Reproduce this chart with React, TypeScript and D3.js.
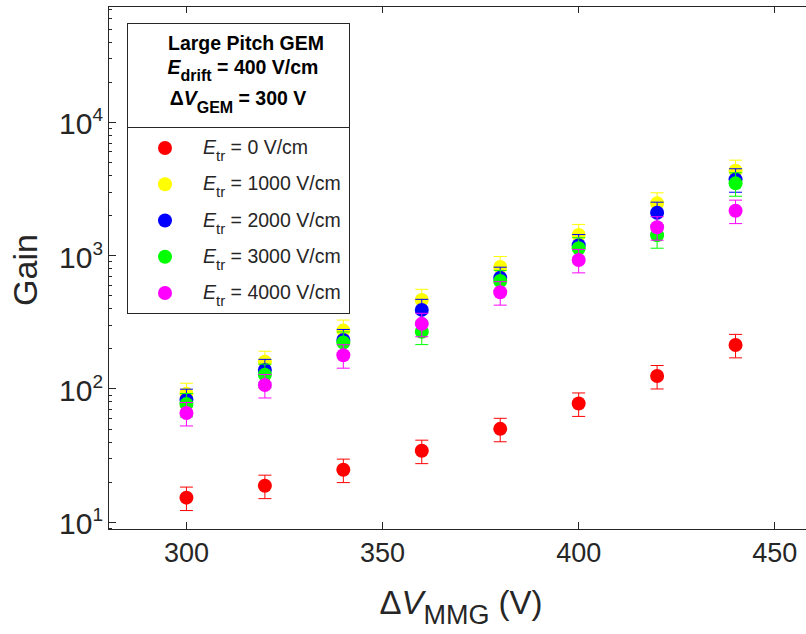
import React from "react";
import * as d3 from "d3";

const voltages = [300, 320, 340, 360, 380, 400, 420, 440];
const gainE0 = [15.3, 18.8, 24.8, 34.4, 50.2, 77.8, 125, 214];
const gainE1000 = [92, 160, 274, 466, 822, 1430, 2470, 4340];
const gainE2000 = [83, 139, 233, 392, 683, 1200, 2100, 3740];
const gainE3000 = [77, 128, 223, 269, 646, 1136, 1422, 3490];
const gainE4000 = [66, 107, 179, 308, 532, 929, 1633, 2175];
const relError = 0.2;

const seriesLabels = ["0", "1000", "2000", "3000", "4000"];
const seriesColors = ["#ff0000", "#ffff00", "#0000ff", "#00ff00", "#ff00ff"];
const seriesData = [gainE0, gainE1000, gainE2000, gainE3000, gainE4000];

const xTicks = [300, 350, 400, 450];
const yTicks = [10, 100, 1000, 10000];
const yTickExps = ["1", "2", "3", "4"];

const W = 806;
const H = 634;
const FONT = "'Liberation Sans', Arial, Helvetica, sans-serif";
const AX = "#262626";

export default function App() {
  const x = d3.scaleLinear().domain([280, 460]).range([108, 814]);
  const y = d3.scaleLog().domain([8.9, 74700]).range([529, 6]);

  const left = 108;
  const bottom = 529;
  const top = 6;

  const minorTicks: number[] = [];
  for (let e = 0; e <= 4; e++) {
    for (let m = 2; m <= 9; m++) {
      const v = m * Math.pow(10, e);
      if (v > 8.9 && v < 74700) minorTicks.push(v);
    }
  }

  const legendY = [148, 184.3, 220.5, 256.7, 293];

  return (
    <svg width={W} height={H} style={{ display: "block", position: "absolute", left: 0, top: 0 }} fontFamily={FONT}>
      <rect x={0} y={0} width={W} height={H} fill="#fff" />
      {/* axes box */}
      <g stroke={AX} strokeWidth={1} fill="none" shapeRendering="crispEdges">
        <line x1={left} y1={bottom} x2={W} y2={bottom} />
        <line x1={left} y1={top} x2={W} y2={top} />
        <line x1={left} y1={top} x2={left} y2={bottom} />
        {xTicks.map((t) => (
          <g key={"xt" + t}>
            <line x1={x(t)} x2={x(t)} y1={bottom} y2={bottom - 7} />
            <line x1={x(t)} x2={x(t)} y1={top} y2={top + 7} />
          </g>
        ))}
        {yTicks.map((t) => (
          <line key={"yt" + t} x1={left} x2={left + 8} y1={y(t)} y2={y(t)} />
        ))}
        {minorTicks.map((t) => (
          <line key={"ym" + t} x1={left} x2={left + 4} y1={y(t)} y2={y(t)} />
        ))}
      </g>
      {/* tick labels */}
      <g fill={AX}>
        {xTicks.map((t) => (
          <text key={"xl" + t} x={x(t)} y={562} textAnchor="middle" fontSize={27}>
            {t}
          </text>
        ))}
        {yTicks.map((t, i) => (
          <text key={"yl" + t} x={103} y={y(t) + 12} textAnchor="end" fontSize={30}>
            10
            <tspan fontSize={19} dy={-13}>
              {yTickExps[i]}
            </tspan>
          </text>
        ))}
      </g>
      {/* axis labels */}
      <text x={28} y={270} transform="rotate(-90 28 270)" textAnchor="middle" dominantBaseline="middle" fontSize={34} fill={AX}>
        Gain
      </text>
      <text x={461} y={614} textAnchor="middle" fontSize={33} fill={AX}>
        Δ<tspan fontStyle="italic">V</tspan>
        <tspan fontSize={27} dy={10}>MMG</tspan>
        <tspan dy={-10}> (V)</tspan>
      </text>
      {/* data */}
      {seriesData.map((vals, si) => (
        <g key={"s" + si}>
          {vals.map((v, i) => {
            const cx = x(voltages[i]);
            const yl = y(v * (1 - relError));
            const yh = y(v * (1 + relError));
            return (
              <g key={i}>
                <g stroke={seriesColors[si]} strokeWidth={1}>
                  <line x1={cx} x2={cx} y1={yl} y2={yh} />
                  <line x1={cx - 6.5} x2={cx + 6.5} y1={yl} y2={yl} />
                  <line x1={cx - 6.5} x2={cx + 6.5} y1={yh} y2={yh} />
                </g>
                <circle cx={cx} cy={y(v)} r={7} fill={seriesColors[si]} />
              </g>
            );
          })}
        </g>
      ))}
      {/* legend */}
      <rect x={127} y={23} width={222} height={290} fill="#fff" stroke={AX} strokeWidth={1} shapeRendering="crispEdges" />
      <line x1={127} x2={349} y1={127} y2={127} stroke={AX} strokeWidth={1} shapeRendering="crispEdges" />
      <g fill="#000" fontWeight="bold" fontSize={19.5} textAnchor="middle">
        <text x={246} y={50}>Large Pitch GEM</text>
        <text x={243} y={74}>
          <tspan fontStyle="italic">E</tspan>
          <tspan fontSize={16} dy={7}>drift</tspan>
          <tspan dy={-7}> = 400 V/cm</tspan>
        </text>
        <text x={238} y={105}>
          Δ<tspan fontStyle="italic">V</tspan>
          <tspan fontSize={16} dy={8}>GEM</tspan>
          <tspan dy={-8}> = 300 V</tspan>
        </text>
      </g>
      {seriesLabels.map((lab, i) => (
        <g key={"lg" + i}>
          <circle cx={165} cy={legendY[i]} r={7} fill={seriesColors[i]} />
          <text x={203} y={legendY[i] + 6} fontSize={19.5} fill={AX}>
            <tspan fontStyle="italic">E</tspan>
            <tspan fontSize={15} dy={7}>tr</tspan>
            <tspan dy={-7}> = {lab} V/cm</tspan>
          </text>
        </g>
      ))}
    </svg>
  );
}
